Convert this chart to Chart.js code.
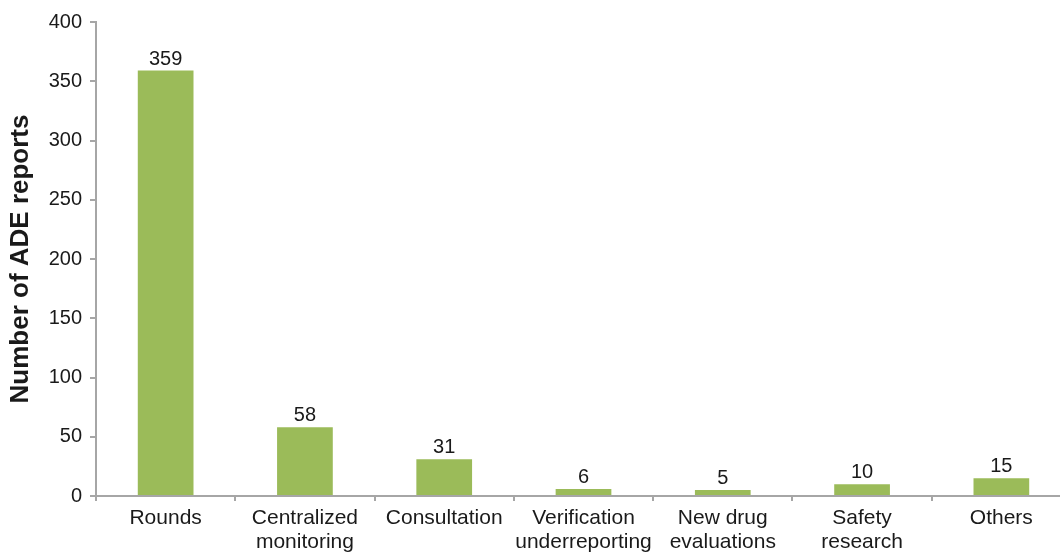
<!DOCTYPE html>
<html>
<head>
<meta charset="utf-8">
<script src="https://cdn.jsdelivr.net/npm/chart.js@4"></script>
<style>
  html, body { margin: 0; padding: 0; background: #fff; overflow: hidden; }
  #wrap { width: 1075px; height: 575px; }
</style>
</head>
<body>
<div id="wrap"><canvas id="graph-bar"></canvas></div>
<script>
// categories and values
const categories = [
    ['Rounds'],
    ['Centralized', 'monitoring'],
    ['Consultation'],
    ['Verification', 'underreporting'],
    ['New drug', 'evaluations'],
    ['Safety', 'research'],
    ['Others']
];
const reports = [359, 58, 31, 6, 5, 10, 15];
const yTicks = [0, 50, 100, 150, 200, 250, 300, 350, 400];

const gb = document.getElementById('graph-bar');
const axisColor = '#a6a6a6';
const textColor = '#1a1a1a';
const fontFamily = "'Liberation Sans', Arial, sans-serif";

// draws the number above each bar
const valueLabels = {
    id: 'valueLabels',
    afterDatasetsDraw(chart) {
        const ctx = chart.ctx;
        const meta = chart.getDatasetMeta(0);
        ctx.save();
        ctx.font = '20px ' + fontFamily;
        ctx.fillStyle = textColor;
        ctx.textAlign = 'center';
        ctx.textBaseline = 'alphabetic';
        meta.data.forEach(function(bar, i) {
            ctx.fillText(String(reports[i]), bar.x, bar.y - 6);
        });
        ctx.restore();
    }
};

var ch_gb = new Chart(gb, {
    type: 'bar',
    data: {
        labels: categories,
        datasets: [{
            data: reports,
            backgroundColor: '#9bbb59',
            barPercentage: 0.4,
            categoryPercentage: 1
        }]
    },
    options: {
        responsive: true,
        maintainAspectRatio: false,
        animation: false,
        layout: { padding: { top: 22, right: 4, left: 0, bottom: 0 } },
        plugins: {
            legend: { display: false },
            tooltip: { enabled: false }
        },
        scales: {
            x: {
                afterFit: function(scale) { scale.height = 79; },
                grid: {
                    offset: true,
                    drawOnChartArea: false,
                    color: axisColor,
                    tickLength: 5,
                    lineWidth: 2
                },
                border: { color: axisColor, width: 2 },
                ticks: {
                    color: textColor,
                    font: { family: fontFamily, size: 21, lineHeight: 1.15 },
                    padding: 5,
                    maxRotation: 0,
                    autoSkip: false
                }
            },
            y: {
                min: 0,
                max: 400,
                afterFit: function(scale) { scale.width = 96; },
                afterBuildTicks: function(scale) {
                    scale.ticks = yTicks.map(function(v) { return { value: v }; });
                },
                grid: {
                    drawOnChartArea: false,
                    color: axisColor,
                    tickLength: 6,
                    lineWidth: 2
                },
                border: { color: axisColor, width: 2 },
                ticks: {
                    color: textColor,
                    font: { family: fontFamily, size: 20 },
                    padding: 8
                },
                title: {
                    display: true,
                    text: 'Number of ADE reports',
                    color: textColor,
                    font: { family: fontFamily, size: 26, weight: 'bold' },
                    padding: { top: 5, bottom: 0 }
                }
            }
        }
    },
    plugins: [valueLabels]
});
</script>
</body>
</html>
